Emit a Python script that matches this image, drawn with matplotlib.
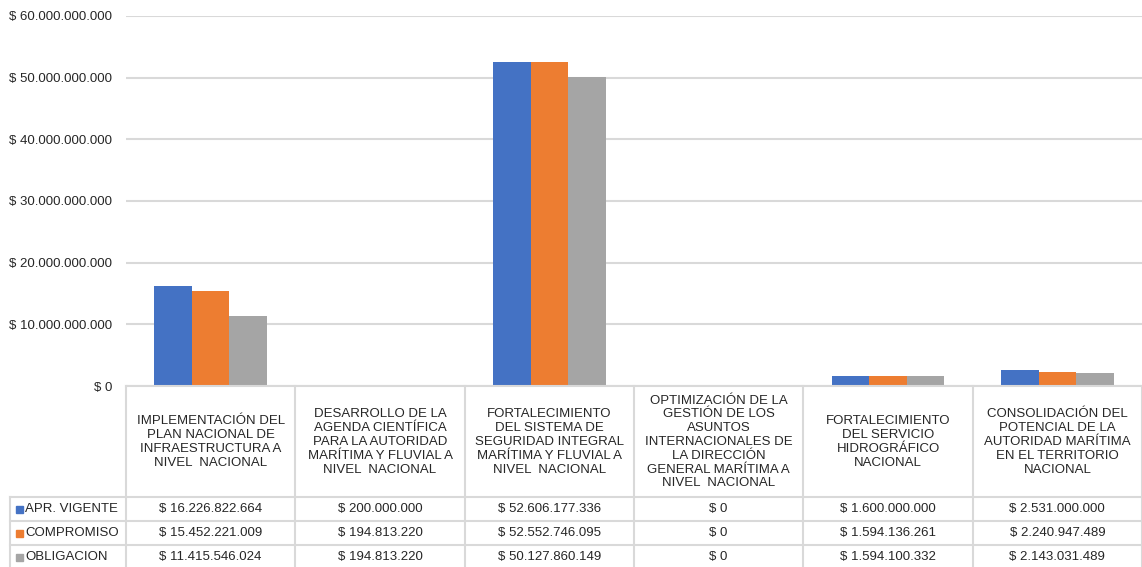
import matplotlib.pyplot as plt
import numpy as np

plt.rcParams['font.family'] = ['Liberation Sans', 'DejaVu Sans']

categories = [
    "IMPLEMENTACIÓN DEL\nPLAN NACIONAL DE\nINFRAESTRUCTURA A\nNIVEL  NACIONAL",
    "DESARROLLO DE LA\nAGENDA CIENTÍFICA\nPARA LA AUTORIDAD\nMARÍTIMA Y FLUVIAL A\nNIVEL  NACIONAL",
    "FORTALECIMIENTO\nDEL SISTEMA DE\nSEGURIDAD INTEGRAL\nMARÍTIMA Y FLUVIAL A\nNIVEL  NACIONAL",
    "OPTIMIZACIÓN DE LA\nGESTIÓN DE LOS\nASUNTOS\nINTERNACIONALES DE\nLA DIRECCIÓN\nGENERAL MARÍTIMA A\nNIVEL  NACIONAL",
    "FORTALECIMIENTO\nDEL SERVICIO\nHIDROGRÁFICO\nNACIONAL",
    "CONSOLIDACIÓN DEL\nPOTENCIAL DE LA\nAUTORIDAD MARÍTIMA\nEN EL TERRITORIO\nNACIONAL",
]
series_names = ["APR. VIGENTE", "COMPROMISO", "OBLIGACION"]
apr_vigente = [16226822664, 200000000, 52606177336, 0, 1600000000, 2531000000]
compromiso = [15452221009, 194813220, 52552746095, 0, 1594136261, 2240947489]
obligacion = [11415546024, 194813220, 50127860149, 0, 1594100332, 2143031489]
colors = ["#4472C4", "#ED7D31", "#A5A5A5"]
yticks = [0, 10e9, 20e9, 30e9, 40e9, 50e9, 60e9]


def money(v):
    return "$ " + f"{int(v):,}".replace(",", ".")


W, H = 1142, 567
fig = plt.figure(figsize=(W / 100, H / 100), dpi=100)

# pixel layout
x0, x1 = 126, 1142
y_zero, y_top = 386, 16
ax = fig.add_axes([x0 / W, 1 - y_zero / H, (x1 - x0) / W, (y_zero - y_top) / H])

n = len(categories)
x = np.arange(n)
bw = 0.222
grid_c = "#D9D9D9"
for k, vals in enumerate([apr_vigente, compromiso, obligacion]):
    ax.bar(x + (k - 1) * bw, vals, bw, color=colors[k], zorder=3)

ax.set_xlim(-0.5, n - 0.5)
ax.set_ylim(0, 60e9)
ax.set_yticks(yticks)
ax.set_yticklabels([money(v) for v in yticks], fontsize=9.5, color="#262626")
ax.yaxis.grid(True, color=grid_c, linewidth=1.5, zorder=0)
ax.tick_params(axis="y", length=0, pad=10)
ax.tick_params(axis="x", length=0, labelbottom=False)
for s in ax.spines.values():
    s.set_visible(False)

# data table below the axis, drawn in pixel coordinates
tb = fig.add_axes([0, 0, 1, 1], facecolor="none")
tb.set_xlim(0, W)
tb.set_ylim(H, 0)
tb.axis("off")

col_w = (x1 - x0) / n
head_bot = 497
row_h = 24
lw = 1.5
tb.plot([x0, x1], [y_zero, y_zero], color=grid_c, lw=lw)
for j in range(n + 1):
    xx = x0 + j * col_w
    tb.plot([xx, xx], [y_zero, H], color=grid_c, lw=lw)
tb.plot([10, 10], [head_bot, H], color=grid_c, lw=lw)
for r in range(4):
    yy = head_bot + r * row_h
    tb.plot([10, x1], [yy, yy], color=grid_c, lw=lw)

for j, cat in enumerate(categories):
    cx = x0 + (j + 0.5) * col_w
    tb.text(cx, 442, cat, ha="center", va="center",
            fontsize=9.5, color="#262626", linespacing=1.2)

for r, (name, vals) in enumerate(zip(series_names, [apr_vigente, compromiso, obligacion])):
    cy = head_bot + (r + 0.5) * row_h
    tb.add_patch(plt.Rectangle((16, cy - 3.5), 7, 7, color=colors[r]))
    tb.text(25, cy, name, ha="left", va="center", fontsize=9.5, color="#262626")
    for j, v in enumerate(vals):
        tb.text(x0 + (j + 0.5) * col_w, cy, money(v), ha="center", va="center",
                fontsize=9.5, color="#262626")

fig.savefig("out.png", dpi=100)
